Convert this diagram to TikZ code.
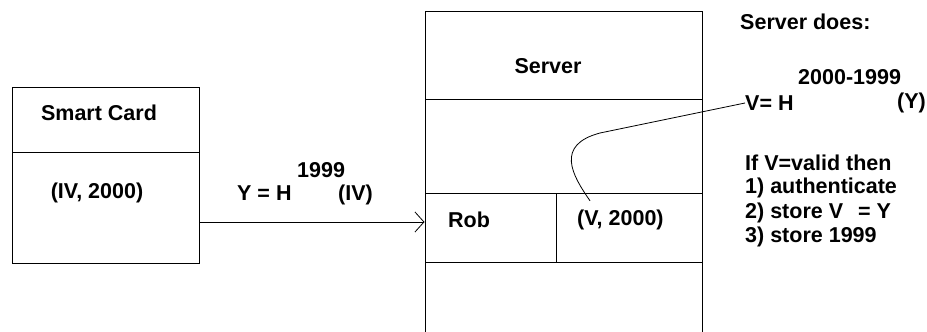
\documentclass[tikz,border=0pt]{standalone}
\usepackage{fontspec}
\setmainfont{Liberation Sans}
\usetikzlibrary{arrows.meta,positioning}

\tikzset{
  cell/.style={draw, line width=1pt, inner sep=0pt},
  lbl/.style={font=\bfseries\fontsize{21.5}{25}\selectfont, inner sep=0pt},
  flow/.style={-{Straight Barb[length=9pt,width=20pt,line width=0.8pt]}, line width=1pt},
}

\begin{document}
\begin{tikzpicture}[x=1pt,y=-1pt]
    \useasboundingbox (0,0) rectangle (927,332);
    % smart card
    \node[cell, minimum width=187pt, minimum height=65pt] (cardtop) at (105.5,119.5) {};
    \node[cell, minimum width=187pt, minimum height=111pt] (cardbot) at (105.5,207.5) {};
    \node[lbl] (card) at (99,113) {Smart Card};
    \node[lbl] (iv) at (97,193) {(IV, 2000)};
    % server
    \node[cell, minimum width=277pt, minimum height=88pt] (servtop) at (563.5,55) {};
    \node[cell, minimum width=277pt, minimum height=94pt] (servmid) at (563.5,146) {};
    \node[cell, minimum width=131pt, minimum height=69pt] (rob) at (490.5,227.5) {};
    \node[cell, minimum width=146pt, minimum height=69pt] (vcell) at (629,227.5) {};
    \node[cell, minimum width=277pt, minimum height=90pt] (servbot) at (563.5,307) {};
    \node[lbl] (server) at (548,66) {Server};
    \node[lbl, anchor=west] (robtxt) at (448,220) {Rob};
    \node[lbl, anchor=west] (vtxt) at (577,220) {(V, 2000)};
    % message
    \node[lbl, anchor=west] (yh) at (237,193) {Y = H};
    \node[lbl, anchor=west] (yexp) at (297,170) {1999};
    \node[lbl, anchor=west] (yarg) at (338,195) {(IV)};
    \coordinate (arrowlevel) at (0,222);
    \draw[flow] (cardbot.east |- arrowlevel) -- (rob.west |- arrowlevel);
    % server side
    \node[lbl, anchor=west] (does) at (740,22) {Server does:};
    \node[lbl, anchor=west] (vexp) at (798,77) {2000-1999};
    \node[lbl, anchor=west] (vh) at (745,103) {V= H};
    \node[lbl, anchor=east] (varg) at (926,103) {(Y)};
    \node[lbl, anchor=west] (step0) at (745,163) {If V=valid then};
    \node[lbl, anchor=west] (step1) at (745,188) {1) authenticate};
    \node[lbl, anchor=west] (step2) at (745,213) {2) store V\hspace{9pt} = Y};
    \node[lbl, anchor=west] (step3) at (745,237) {3) store 1999};
    \coordinate (bend) at (600,133);
    \draw[line width=0.8pt] ([xshift=13pt,yshift=9pt]vtxt.north west) .. controls (572,175) and (555,145) .. (bend) -- (vh.west);
\end{tikzpicture}
\end{document}
